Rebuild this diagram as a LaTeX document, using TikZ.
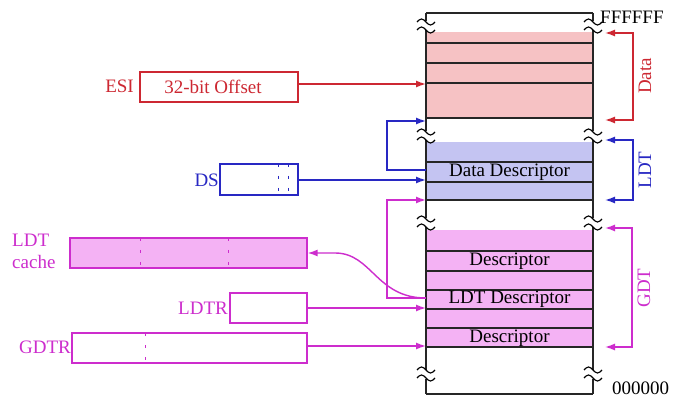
\documentclass[tikz,border=0pt]{standalone}
\usepackage{fontspec}
\setmainfont{Liberation Serif}
\usetikzlibrary{arrows.meta}
\definecolor{cRed}{RGB}{205,40,50}
\definecolor{redFill}{RGB}{246,194,196}
\definecolor{cBlue}{RGB}{40,40,195}
\definecolor{blueFill}{RGB}{196,196,242}
\definecolor{cMag}{RGB}{205,45,205}
\definecolor{magFill}{RGB}{244,178,244}
\tikzset{
  lbl/.style={font=\fontsize{19}{21}\selectfont, inner sep=0pt},
  regbox/.style={draw, line width=1.3pt, minimum height=30pt, inner sep=0pt, font=\fontsize{19}{21}\selectfont},
  conn/.style={line width=1.4pt, -{Latex[length=10pt,width=7pt]}},
  bracket/.style={line width=1.4pt, {Latex[length=10pt,width=7pt]}-{Latex[length=10pt,width=7pt]}},
  memline/.style={line width=1.4pt, black!85},
  fieldsep/.style={dash pattern=on 3pt off 9pt, line width=1pt},
  brk/.pic={
    \fill[white] (-3,-4.5) rectangle (3,4.5);
    \draw[line width=1.2pt] (-9,-4) sin (-4.5,-7) cos (0,-4) sin (4.5,-1) cos (9,-4);
    \draw[line width=1.2pt] (-9,4) sin (-4.5,1) cos (0,4) sin (4.5,7) cos (9,4);
  }
}
\begin{document}
\begin{tikzpicture}[x=1pt,y=-1pt]
\useasboundingbox[fill=white] (0,0) rectangle (673,401);

% memory column fills
\fill[redFill] (426,32) rectangle (593,118);
\fill[blueFill] (426,142) rectangle (593,200);
\fill[magFill] (426,230) rectangle (593,347);
\foreach \yy in {43,63,83,118,162,182,200,251,271,290,309,328,347}
  \draw[memline] (426,\yy) -- (593,\yy);
\draw[memline] (426,13) -- (593,13);
\draw[memline] (426,394) -- (593,394);
\draw[memline] (426,13) -- (426,394);
\draw[memline] (593,13) -- (593,394);
\foreach \yy in {26,136,223,374}{
  \pic at (426,\yy) {brk};
  \pic at (593,\yy) {brk};
}

% memory texts
\node[lbl] (dd) at (509.5,172) {Data Descriptor};
\node[lbl] (d1) at (509.5,261) {Descriptor};
\node[lbl] (ldtd) at (509.5,299) {LDT Descriptor};
\node[lbl] (d2) at (509.5,338) {Descriptor};
\node[lbl, anchor=west] (ftop) at (600,17) {FFFFFF};
\node[lbl, anchor=west] (fbot) at (612,388) {000000};

% registers
\node[regbox, cRed, minimum width=158pt] (esi) at (219,87) {\hspace*{-12pt}32-bit Offset};
\node[lbl, cRed, anchor=east] (esil) at (134,86) {ESI};
\node[regbox, cBlue, minimum width=78pt, minimum height=31pt] (ds) at (259,179.5) {};
\node[lbl, cBlue, anchor=east] (dsl) at (219,180) {DS};
\draw[fieldsep, cBlue] (278,164) -- (278,195);
\draw[fieldsep, cBlue] (288,164) -- (288,195);

\node[regbox, draw=cMag, fill=magFill, minimum width=237pt] (ldtc) at (188.5,253) {};
\node[lbl, cMag, anchor=west, align=left, font=\fontsize{19}{22}\selectfont] (ldtcl) at (12,251) {LDT\\cache};
\draw[fieldsep, cMag] (140,238) -- (140,268);
\draw[fieldsep, cMag] (228,238) -- (228,268);

\node[regbox, cMag, minimum width=77pt] (ldtr) at (268.5,308) {};
\node[lbl, cMag, anchor=east] (ldtrl) at (228,308) {LDTR};
\node[regbox, cMag, minimum width=235pt] (gdtr) at (189.5,348) {};
\node[lbl, cMag, anchor=east] (gdtrl) at (71,347) {GDTR};
\draw[fieldsep, cMag] (145,333) -- (145,363);

% connector end points on the column
\coordinate (mESI) at (426,84);
\coordinate (mDS) at (426,180);
\coordinate (mDD) at (426,170);
\coordinate (mDataBase) at (426,121);
\coordinate (mLDTD) at (426,298);
\coordinate (mLDTBase) at (426,200);
\coordinate (mGDTBase) at (426,346);

\draw[conn, cRed] (esi.east |- mESI) -- (mESI);
\draw[conn, cBlue] (ds.east |- mDS) -- (mDS);
\draw[conn, cBlue] (mDD) -- ++(-39,0) |- (mDataBase);
\draw[conn, cMag] (mLDTD) -- ++(-39,0) |- (mLDTBase);
\draw[conn, cMag] (mLDTD) .. controls (376,298) and (372,253) .. (335,253) -- (ldtc.east);
\draw[conn, cMag] (ldtr.east) -- (ldtr.east -| mLDTD);
\draw[conn, cMag] (gdtr.east |- mGDTBase) -- (mGDTBase);

% brackets on the right
\coordinate (dT) at (605,33);
\coordinate (dB) at (605,120);
\draw[bracket, cRed] (dT) -- ++(28,0) |- (dB);
\node[lbl, cRed, rotate=90] (dlab) at (645,76) {Data};
\coordinate (lT) at (605,140);
\coordinate (lB) at (605,200);
\draw[bracket, cBlue] (lT) -- ++(28,0) |- (lB);
\node[lbl, cBlue, rotate=90] (llab) at (645,170) {LDT};
\coordinate (gT) at (605,228);
\coordinate (gB) at (605,347);
\draw[bracket, cMag] (gT) -- ++(27,0) |- (gB);
\node[lbl, cMag, rotate=90] (glab) at (644,288) {GDT};
\end{tikzpicture}
\end{document}
